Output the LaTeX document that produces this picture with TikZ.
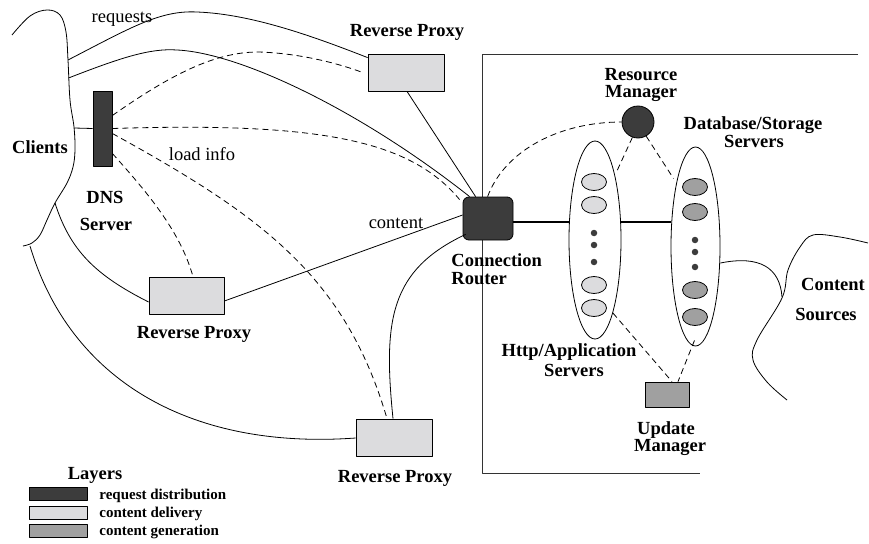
\documentclass[tikz,border=0pt]{standalone}
\usepackage{fontspec}
\setmainfont{Liberation Serif}
\usetikzlibrary{shapes.geometric,calc}
\definecolor{darkfill}{HTML}{3C3C3C}
\definecolor{lightfill}{HTML}{DCDCDE}
\definecolor{midfill}{HTML}{A0A0A0}
\begin{document}
\begin{tikzpicture}[x=1pt,y=-1pt,line width=0.8pt,line join=round,
  lbl/.style={font=\fontsize{18.5}{18}\selectfont\bfseries,inner sep=0pt,anchor=base},
  txt/.style={font=\fontsize{18.5}{18}\selectfont,inner sep=0pt,anchor=base},
  leg/.style={font=\fontsize{15}{15}\selectfont\bfseries,inner sep=0pt,anchor=base west},
  proxy/.style={draw,fill=lightfill,minimum width=76pt,minimum height=37pt,inner sep=0pt},
  dline/.style={dash pattern=on 6pt off 4pt},
  heavy/.style={line width=2pt},
  outer/.style={draw,ellipse,inner sep=0pt},
  inapp/.style={draw,ellipse,fill=lightfill,minimum width=25pt,minimum height=17pt,inner sep=0pt},
  indb/.style={draw,ellipse,fill=midfill,minimum width=25pt,minimum height=17pt,inner sep=0pt},
  dotn/.style={circle,fill=darkfill,minimum size=6.5pt,inner sep=0pt},
  legbox/.style={draw,minimum width=58pt,minimum height=13pt,inner sep=0pt}]
\useasboundingbox (0,0) rectangle (869,543);

% clients region boundary
\draw plot[smooth,tension=0.6] coordinates {(12,35) (30,16) (47,10) (60,15) (66,32) (68,60) (70,100) (74,127) (75,150) (73,167) (67,183) (55,203) (47,220) (40,235) (32,243) (23,246)};
\coordinate (cA) at (68,60);
\coordinate (cB) at (68.5,78);
\coordinate (cC) at (74,128);
\coordinate (cD) at (55,203);
\coordinate (cE) at (30,246);

% big box
\draw[line width=0.9pt,draw=black!80] (858,54) -- (482,54) -- (482,473) -- (700,473);

% nodes
\node[draw,fill=darkfill,minimum width=19pt,minimum height=75pt,inner sep=0pt] (dns) at (102.5,128.5) {};
\node[proxy] (tp) at (406,72.5) {};
\node[proxy,minimum width=75pt] (mp) at (186.5,295.5) {};
\node[proxy] (bp) at (394,437.5) {};
\node[draw,fill=darkfill,rounded corners=6pt,minimum width=50pt,minimum height=43pt,inner sep=0pt] (router) at (488,218.5) {};
\node[draw,circle,fill=darkfill,minimum size=32pt,inner sep=0pt] (rm) at (638,122) {};
\node[draw,fill=midfill,minimum width=44pt,minimum height=25pt,inner sep=0pt] (um) at (667,394.5) {};
\node[outer,minimum width=52pt,minimum height=198pt] (http) at (595,240) {};
\node[outer,minimum width=49pt,minimum height=199pt] (db) at (695.5,246.5) {};

\node[inapp] (h1) at (594,182) {};
\node[inapp] (h2) at (594,205) {};
\node[inapp] (h3) at (594,285) {};
\node[inapp] (h4) at (594,308) {};
\node[dotn] (hd1) at (594,233) {};
\node[dotn] (hd2) at (594,245) {};
\node[dotn] (hd3) at (594,262) {};

\node[indb] (d1) at (695,187) {};
\node[indb] (d2) at (695,212) {};
\node[indb] (d3) at (695,290) {};
\node[indb] (d4) at (695,317) {};
\node[dotn] (dd1) at (695,240) {};
\node[dotn] (dd2) at (695,252) {};
\node[dotn] (dd3) at (695,267) {};

% client connections
\draw (cA) .. controls (130,28) and (160,10) .. (197,12) .. controls (250,14) and (310,35) .. ($(tp.north west)+(0,4)$);
\draw (cB) .. controls (120,58) and (150,48) .. (177,50) .. controls (240,53) and (360,110) .. ($(router.north west)+(7,0)$);
\draw (cC) -- (dns.west);
\draw (cD) .. controls (70,250) and (95,275) .. ($(mp.west)+(0,6.5)$);
\draw (cE) .. controls (70,380) and (190,450) .. ($(bp.west)+(0,0.5)$);

% dns load info
\draw[dline] ($(dns.east)+(0,-13)$) .. controls (170,75) and (215,52) .. (258,52) .. controls (300,53) and (340,64) .. ($(tp.west)+(-5,0)$);
\draw[dline] (dns.east) .. controls (320,122) and (410,140) .. ($(router.north west)+(-3,3)$);
\draw[dline] ($(dns.east)+(0,5)$) .. controls (260,215) and (345,275) .. ($(bp.north)+(-7,0)$);
\draw[dline] ($(dns.east)+(0,25)$) .. controls (145,190) and (180,230) .. ($(mp.north)+(6.5,0)$);

% content links to router
\draw ($(tp.south)+(1,0)$) -- ($(router.north west)+(13,0)$);
\draw ($(mp.east)+(0,5.5)$) -- ($(router.west)+(0,-3.5)$);
\draw ($(bp.north)+(-1,0)$) .. controls (383,320) and (390,270) .. ($(router.south west)+(3,-6)$);

% server side
\coordinate (r1) at ($(router.east)+(0,3.5)$);
\draw[heavy] (r1) -- (r1 -| http.west);
\draw[heavy] (r1 -| http.east) -- (r1 -| db.west);
\draw[dline] ($(router.north west)+(25,0)$) .. controls (505,150) and (560,122) .. (rm.west);
\draw[dline] (rm.250) -- ($(http.center)+(21,-67)$);
\draw[dline] (rm.300) -- ($(db.center)+(-22,-68)$);
\draw[dline] ($(h4.east)+(6,5)$) -- ($(um.north)+(5,0)$);
\draw[dline] ($(db.south)+(-1,-6)$) -- ($(um.north)+(11,0)$);

% content sources
\coordinate (cs) at (782,297);
\draw ($(db.east)+(0,16.5)$) .. controls (760,255) and (780,268) .. (cs);
\draw plot[smooth,tension=0.6] coordinates {(787,400) (767,382) (753,360) (757,340) (782,298) (788,270) (800,247) (813,235) (840,237) (868,243)};

% labels
\node[txt] (lreq) at (122,23) {requests};
\node[txt] (lload) at (202,160) {load info};
\node[txt] (lcont) at (396,228) {content};
\node[lbl] (lcl) at (40,153) {Clients};
\node[lbl] (ldns1) at (105,203) {DNS};
\node[lbl] (ldns2) at (106,230) {Server};
\node[lbl] (ltp) at (407,37) {Reverse Proxy};
\node[lbl] (lmp) at (194,338) {Reverse Proxy};
\node[lbl] (lbp) at (395,482) {Reverse Proxy};
\node[lbl,anchor=base west] (lcr1) at (451,266) {Connection};
\node[lbl,anchor=base west] (lcr2) at (451,284) {Router};
\node[lbl] (lrm1) at (641,80) {Resource};
\node[lbl] (lrm2) at (641,97) {Manager};
\node[lbl] (ldb1) at (753,129) {Database/Storage};
\node[lbl] (ldb2) at (754,147) {Servers};
\node[lbl] (lha1) at (569,356) {Http/Application};
\node[lbl] (lha2) at (574,376) {Servers};
\node[lbl] (lum1) at (666,434) {Update};
\node[lbl] (lum2) at (670,451) {Manager};
\node[lbl] (lcs1) at (833,290) {Content};
\node[lbl] (lcs2) at (826,320) {Sources};

% legend
\node[lbl] (llay) at (95,479) {Layers};
\node[legbox,fill=darkfill] (lg1) at (58,493.5) {};
\node[legbox,fill=lightfill] (lg2) at (58,512.5) {};
\node[legbox,fill=midfill] (lg3) at (58,530.5) {};
\node[leg] (lt1) at (99,499) {request distribution};
\node[leg] (lt2) at (99,517) {content delivery};
\node[leg] (lt3) at (99,535) {content generation};
\end{tikzpicture}
\end{document}
